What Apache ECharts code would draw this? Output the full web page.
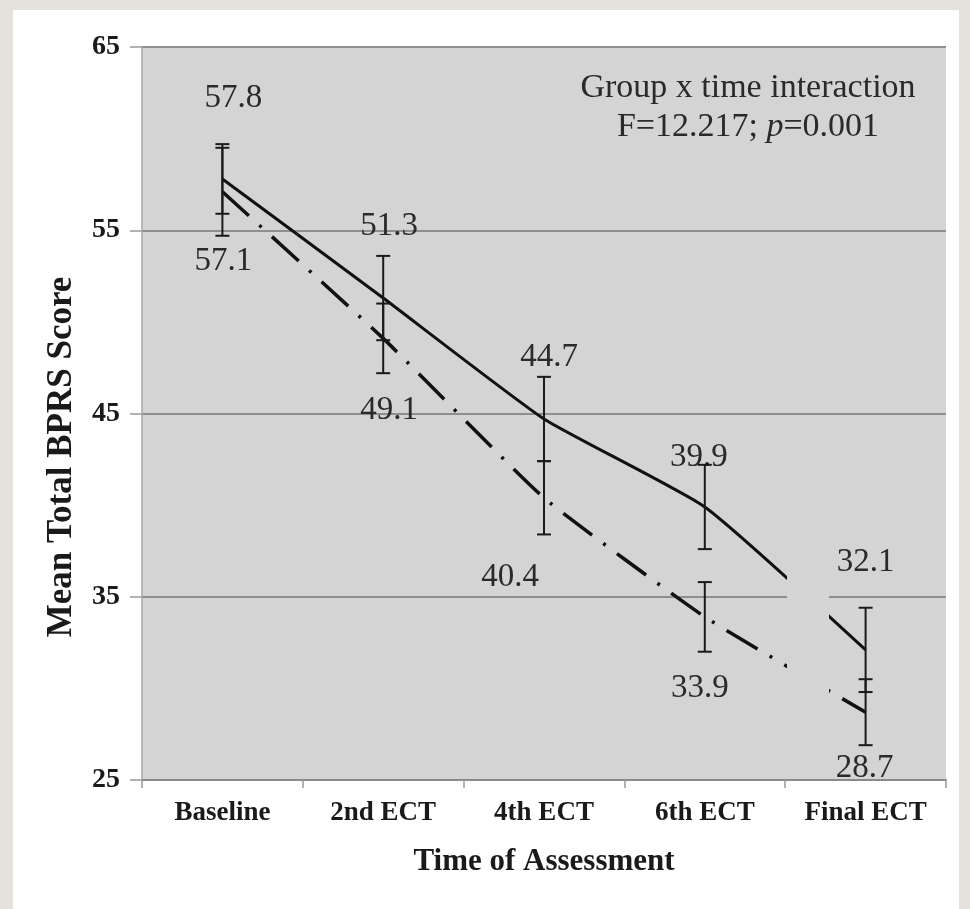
<!DOCTYPE html>
<html>
<head>
<meta charset="utf-8">
<script src="https://cdn.jsdelivr.net/npm/echarts@6/dist/echarts.min.js"></script>
<style>
  html, body { margin: 0; padding: 0; background: #e4e2dc; }
  #chart { width: 970px; height: 909px; }
</style>
</head>
<body>
<div id="chart"></div>
<script>
const categories = ['Baseline', '2nd ECT', '4th ECT', '6th ECT', 'Final ECT'];
const solidMeans = [57.8, 51.3, 44.7, 39.9, 32.1];
const dashMeans = [57.1, 49.1, 40.4, 33.9, 28.7];
const solidErr = [1.9, 2.3, 2.3, 2.3, 2.3];
const dashErr = [2.4, 1.9, 2.0, 1.9, 1.8];
const yTicks = [25, 35, 45, 55, 65];

// label nudges (px) of each value label from its point
const solidLabelShift = [[11, -81], [6, -72], [5, -62], [-6, -50], [0, -88]];
const dashLabelShift = [[1, 70], [6, 72], [-34, 80], [-5, 71], [-1, 56]];

const serif = '"Liberation Serif", "Times New Roman", serif';
const ink = '#1a1a1a';

function errorBarItem(params, api) {
  const x = api.value(0);
  const lo = api.coord([x, api.value(1)]);
  const hi = api.coord([x, api.value(2)]);
  const w = 7;
  const style = { stroke: ink, lineWidth: 2 };
  return {
    type: 'group',
    children: [
      { type: 'line', shape: { x1: hi[0], y1: hi[1], x2: lo[0], y2: lo[1] }, style },
      { type: 'line', shape: { x1: hi[0] - w, y1: hi[1], x2: hi[0] + w, y2: hi[1] }, style },
      { type: 'line', shape: { x1: lo[0] - w, y1: lo[1], x2: lo[0] + w, y2: lo[1] }, style }
    ]
  };
}

function labelled(values, shifts) {
  return values.map((v, i) => ({ value: v, label: { offset: shifts[i] } }));
}

const valueLabel = {
  show: true,
  position: 'inside',
  fontFamily: serif,
  fontSize: 33,
  color: '#2a2a2a'
};

const chart = echarts.init(document.getElementById('chart'));

chart.setOption({
  backgroundColor: '#e4e2dc',
  animation: false,
  grid: {
    left: 142, right: 24, top: 47, bottom: 129,
    show: true, backgroundColor: '#d4d4d4', borderWidth: 0
  },
  xAxis: {
    type: 'category',
    data: categories,
    boundaryGap: true,
    name: 'Time of Assessment',
    nameLocation: 'middle',
    nameGap: 66,
    nameTextStyle: { fontFamily: serif, fontWeight: 'bold', fontSize: 31, color: ink },
    axisLine: { lineStyle: { color: '#8a8a8a', width: 2 } },
    axisTick: { show: true, length: 8, lineStyle: { color: '#9a9a9a', width: 1.5 } },
    axisLabel: { fontFamily: serif, fontWeight: 'bold', fontSize: 27, color: ink, margin: 20 }
  },
  yAxis: {
    type: 'value',
    min: 25, max: 65, interval: 10,
    axisLine: { show: true, lineStyle: { color: '#a8a8a8', width: 1.5 } },
    axisTick: { show: true, length: 12, lineStyle: { color: '#9a9a9a', width: 1.5 } },
    axisLabel: {
      fontFamily: serif, fontWeight: 'bold', fontSize: 28, color: ink, margin: 22,
      formatter: v => (yTicks.includes(v) ? String(v) : '')
    },
    splitLine: { show: true, lineStyle: { color: '#8e8e8e', width: 2 } }
  },
  graphic: [
    {
      type: 'rect', left: 13, top: 10, z: -10, silent: true,
      shape: { width: 946, height: 899 },
      style: { fill: '#ffffff' }
    },
    {
      // gap in the lines before the last point, as in the original figure
      type: 'rect', left: 787, top: 558, z: 10, silent: true,
      shape: { width: 42, height: 145 },
      style: { fill: '#d4d4d4' }
    },
    {
      type: 'text', silent: true, z: 20,
      x: 62, y: 457, rotation: Math.PI / 2,
      style: {
        text: 'Mean Total BPRS Score', fontFamily: serif, fontWeight: 'bold',
        fontSize: 35, fill: ink, align: 'center', verticalAlign: 'middle'
      }
    },
    {
      type: 'text', silent: true, z: 20,
      x: 748, y: 88,
      style: {
        text: 'Group x time interaction', fontFamily: serif, fontSize: 34,
        fill: '#2a2a2a', align: 'center', verticalAlign: 'middle'
      }
    },
    {
      type: 'text', silent: true, z: 20,
      x: 748, y: 127,
      style: {
        text: '{n|F=12.217; }{i|p}{n|=0.001}',
        align: 'center', verticalAlign: 'middle',
        rich: {
          n: { fontFamily: serif, fontSize: 34, fill: '#2a2a2a', color: '#2a2a2a' },
          i: { fontFamily: serif, fontSize: 34, fontStyle: 'italic', fill: '#2a2a2a', color: '#2a2a2a' }
        }
      }
    }
  ],
  series: [
    {
      name: 'Group A',
      type: 'line',
      data: labelled(solidMeans, solidLabelShift),
      smooth: 0.15,
      symbol: 'circle',
      symbolSize: 1,
      itemStyle: { color: ink },
      lineStyle: { color: '#111', width: 3 },
      label: valueLabel,
      z: 3
    },
    {
      name: 'Group B',
      type: 'line',
      data: labelled(dashMeans, dashLabelShift),
      smooth: 0.15,
      symbol: 'circle',
      symbolSize: 1,
      itemStyle: { color: ink },
      lineStyle: { color: '#111', width: 3.5, type: [36, 14, 3, 14] },
      label: valueLabel,
      z: 3
    },
    {
      type: 'custom',
      renderItem: errorBarItem,
      encode: { x: 0, y: [1, 2] },
      data: solidMeans.map((m, i) => [i, m - solidErr[i], m + solidErr[i]]),
      z: 4
    },
    {
      type: 'custom',
      renderItem: errorBarItem,
      encode: { x: 0, y: [1, 2] },
      data: dashMeans.map((m, i) => [i, m - dashErr[i], m + dashErr[i]]),
      z: 4
    }
  ]
});
</script>
</body>
</html>
